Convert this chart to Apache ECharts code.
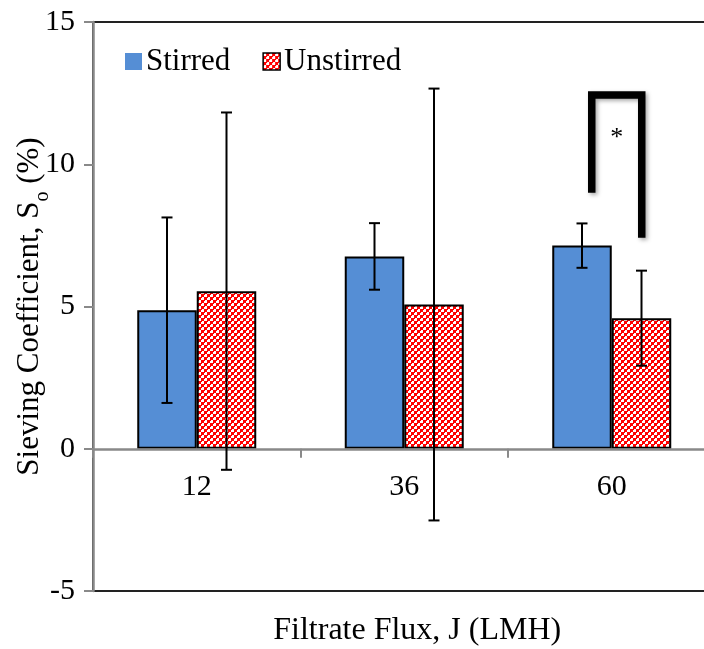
<!DOCTYPE html>
<html>
<head>
<meta charset="utf-8">
<script src="https://cdn.jsdelivr.net/npm/echarts@6/dist/echarts.min.js"></script>
<style>html,body{margin:0;padding:0;background:#fff;}#c{width:704px;height:649px;}</style>
</head>
<body>
<div id="c"></div>
<script>
var categories = ['12', '36', '60'];
var seriesNames = ['Stirred', 'Unstirred'];
var stirred = [4.87, 6.76, 7.14];
var stirredErr = [3.26, 1.17, 0.78];
var unstirred = [5.54, 5.07, 4.59];
var unstirredErr = [6.28, 7.59, 1.67];
var yTicks = { min: -5, max: 15, interval: 5 };
// significance bracket on category "60": left leg bottom, top, right leg bottom
var bracket = [[2, 9.0, 12.43, 7.42]];
var starLabel = '*';
var starValue = [[2, 11.05]];

var FONT = 'Liberation Serif';
var BAR_W = 59.5;

var pat = document.createElement('canvas');
pat.width = 6; pat.height = 6;
var pc = pat.getContext('2d');
pc.fillStyle = '#ff0000'; pc.fillRect(0, 0, 6, 6);
pc.fillStyle = '#ffffff';
pc.fillRect(0, 0, 3, 3); pc.fillRect(3, 3, 3, 3);
pc.fillStyle = '#ff0000';
pc.fillRect(0, 0, 1, 1); pc.fillRect(3, 3, 1, 1);
var checker = { image: pat, repeat: 'repeat' };

function errData(vals, errs) {
  return vals.map(function (v, i) { return [i, v, v - errs[i], v + errs[i]]; });
}

function errRender(offset) {
  return function (params, api) {
    var x = api.value(0);
    var lo = api.coord([x, api.value(2)]);
    var hi = api.coord([x, api.value(3)]);
    var px = lo[0] + offset;
    var cap = 5.5;
    var st = { stroke: '#000', lineWidth: 2 };
    return {
      type: 'group',
      children: [
        { type: 'line', shape: { x1: px, y1: hi[1], x2: px, y2: lo[1] }, style: st },
        { type: 'line', shape: { x1: px - cap, y1: hi[1], x2: px + cap, y2: hi[1] }, style: st },
        { type: 'line', shape: { x1: px - cap, y1: lo[1], x2: px + cap, y2: lo[1] }, style: st }
      ]
    };
  };
}

var chart = echarts.init(document.getElementById('c'));
chart.setOption({
  animation: false,
  backgroundColor: '#ffffff',
  textStyle: { fontFamily: FONT, color: '#000' },
  grid: { left: 93, top: 22, width: 622.5, height: 569, show: true, borderColor: '#222', borderWidth: 2,
          backgroundColor: 'transparent', containLabel: false, outerBoundsMode: 'none' },
  legend: {
    left: 120, top: 41,
    itemWidth: 17, itemHeight: 17, itemGap: 32,
    icon: 'rect',
    textStyle: { fontFamily: FONT, fontSize: 31, color: '#000', padding: [0, 0, 0, -1] },
    data: [
      { name: 'Stirred', itemStyle: { borderWidth: 0 } },
      { name: 'Unstirred', itemStyle: { borderColor: '#000', borderWidth: 1.5 } }
    ]
  },
  xAxis: {
    type: 'category',
    data: categories,
    name: 'Filtrate Flux, J (LMH)',
    nameLocation: 'middle',
    nameGap: 24,
    nameMoveOverlap: false,
    nameTextStyle: { fontFamily: FONT, fontSize: 32, color: '#000', padding: [0, 0, 0, 26] },
    axisLine: { onZero: true, lineStyle: { color: '#898989', width: 2.5 } },
    axisTick: { show: true, length: 9, lineStyle: { color: '#898989', width: 2 } },
    axisLabel: { fontFamily: FONT, fontSize: 30, color: '#000', margin: -119 },
    z: 5
  },
  yAxis: {
    type: 'value',
    min: yTicks.min, max: yTicks.max, interval: yTicks.interval,
    name: '{a|Sieving Coefficient, S}{b|o}{a| (%)}',
    nameLocation: 'middle',
    nameGap: 48,
    nameMoveOverlap: false,
    nameRotate: 90,
    nameTextStyle: {
      rich: {
        a: { fontFamily: FONT, fontSize: 31, color: '#000' },
        b: { fontFamily: FONT, fontSize: 20, color: '#000', verticalAlign: 'bottom', padding: [0, 0, -8, 0] }
      }
    },
    axisLine: { show: true, lineStyle: { color: '#898989', width: 2.5 } },
    axisTick: { show: true, length: 9, lineStyle: { color: '#898989', width: 2 } },
    axisLabel: { fontFamily: FONT, fontSize: 30, color: '#000', margin: 18 },
    splitLine: { show: false },
    z: 6
  },
  series: [
    {
      name: 'Stirred', type: 'bar', data: stirred, barWidth: BAR_W, barGap: '0%',
      itemStyle: { color: '#558ed5', borderColor: '#000', borderWidth: 2 }, z: 2
    },
    {
      name: 'Unstirred', type: 'bar', data: unstirred, barWidth: BAR_W, barGap: '0%',
      itemStyle: { color: checker, borderColor: '#000', borderWidth: 2 }, z: 2
    },
    {
      type: 'custom', name: 'errS', data: errData(stirred, stirredErr),
      renderItem: errRender(-BAR_W / 2), encode: { x: 0, y: [2, 3] }, z: 10, silent: true
    },
    {
      type: 'custom', name: 'errU', data: errData(unstirred, unstirredErr),
      renderItem: errRender(BAR_W / 2), encode: { x: 0, y: [2, 3] }, z: 10, silent: true
    },
    {
      type: 'custom', name: 'bracket', data: bracket, encode: { x: 0, y: [1, 2, 3] }, z: 11, silent: true,
      renderItem: function (params, api) {
        var x = api.value(0);
        var a = api.coord([x, api.value(1)]);
        var t = api.coord([x, api.value(2)]);
        var b = api.coord([x, api.value(3)]);
        var lx = a[0] - 20, rx = a[0] + 30;
        return {
          type: 'polyline',
          shape: { points: [[lx, a[1]], [lx, t[1]], [rx, t[1]], [rx, b[1]]] },
          style: { stroke: '#000', lineWidth: 7.5, fill: null, lineJoin: 'miter', lineCap: 'butt',
                   shadowBlur: 4, shadowColor: 'rgba(0,0,0,0.35)', shadowOffsetX: 2, shadowOffsetY: 2 }
        };
      }
    },
    {
      type: 'custom', name: 'star', data: starValue, encode: { x: 0, y: 1 }, z: 11, silent: true,
      renderItem: function (params, api) {
        var p = api.coord([api.value(0), api.value(1)]);
        return {
          type: 'text',
          x: p[0] + 5, y: p[1] + 4,
          style: { text: starLabel, fontFamily: FONT, fontSize: 26, fill: '#000', align: 'center', verticalAlign: 'middle' }
        };
      }
    }
  ]
});
</script>
</body>
</html>
